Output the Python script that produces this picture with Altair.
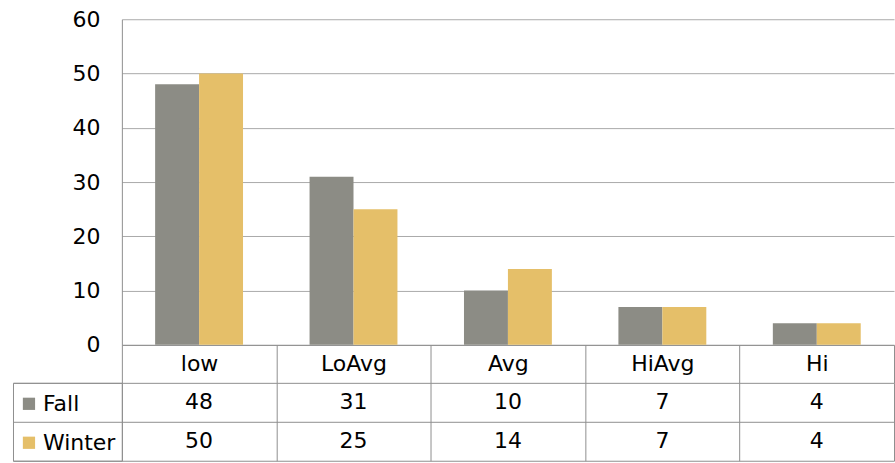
import altair as alt
import pandas as pd

# Score bands and the two test seasons
categories = ["low", "LoAvg", "Avg", "HiAvg", "Hi"]
series = ["Fall", "Winter"]
fall_values = [48, 31, 10, 7, 4]
winter_values = [50, 25, 14, 7, 4]
y_ticks = [0, 10, 20, 30, 40, 50, 60]

FONT = "DejaVu Sans"
FONT_SIZE = 22
GRAY = "#8c8c85"
GOLD = "#e5bf69"
LINE = "#8f8f8f"
GRID = "#aaaaaa"

rows = []
for cat, f, w in zip(categories, fall_values, winter_values):
    rows.append({"category": cat, "series": "Fall", "value": f})
    rows.append({"category": cat, "series": "Winter", "value": w})
df = pd.DataFrame(rows)

PLOT_W = 773
BAR_H = 326
ROW_H = 78
LEGEND_W = 109

# Bands fill the whole step so header/table rules fall on category edges;
# the gap around each pair of columns comes from the offset scale instead.
x_scale = alt.Scale(paddingInner=0, paddingOuter=0)

bars = alt.Chart(df).mark_bar().encode(
    x=alt.X(
        "category:N", sort=categories, scale=x_scale,
        axis=alt.Axis(
            title=None, labelAngle=0, labelFontSize=FONT_SIZE, labelFont=FONT,
            labelColor="black", tickBand="extent", tickSize=38,
            tickColor=LINE, tickWidth=1, domainColor=LINE, domainWidth=1,
            labelPadding=-19, labelBaseline="middle", grid=False,
        ),
    ),
    xOffset=alt.XOffset("series:N", sort=series,
                        scale=alt.Scale(paddingInner=0, paddingOuter=0.757)),
    y=alt.Y(
        "value:Q", scale=alt.Scale(domain=[0, 60], nice=False),
        axis=alt.Axis(
            title=None, values=y_ticks, ticks=False, labelPadding=22,
            labelFontSize=FONT_SIZE, labelFont=FONT, labelColor="black",
            gridColor=GRID, gridWidth=1, domainColor=LINE, domainWidth=1,
        ),
    ),
    color=alt.Color(
        "series:N", sort=series,
        scale=alt.Scale(domain=series, range=[GRAY, GOLD]),
        legend=alt.Legend(
            title=None, orient="none", legendX=5, legendY=374,
            symbolType="square", symbolSize=150, symbolStrokeWidth=0,
            symbolOpacity=1, labelFontSize=FONT_SIZE, labelFont=FONT,
            labelColor="black", labelOffset=3, rowPadding=17, padding=0,
        ),
    ),
).properties(width=PLOT_W, height=BAR_H)

# Empty corner above the legend column
corner = alt.Chart(pd.DataFrame({"series": []})).mark_point().properties(
    width=LEGEND_W, height=BAR_H
)

# Legend column frame with one row per season
legend_cell = alt.Chart(pd.DataFrame({"series": series})).mark_point(
    opacity=0
).encode(
    y=alt.Y(
        "series:N", sort=series,
        scale=alt.Scale(paddingInner=0, paddingOuter=0),
        axis=alt.Axis(title=None, labels=False, ticks=False, domain=False,
                      grid=True, tickBand="extent", gridColor=LINE,
                      gridWidth=1),
    )
).properties(width=LEGEND_W, height=ROW_H,
             view=alt.ViewBackground(stroke=LINE, strokeWidth=1))

# Data table values under each category
table = alt.Chart(df).mark_text(
    fontSize=FONT_SIZE, font=FONT, color="black", baseline="middle"
).encode(
    x=alt.X(
        "category:N", sort=categories, scale=x_scale,
        axis=alt.Axis(title=None, labels=False, ticks=False, domain=False,
                      grid=True, tickBand="extent", gridColor=LINE,
                      gridWidth=1, orient="top"),
    ),
    y=alt.Y(
        "series:N", sort=series,
        scale=alt.Scale(paddingInner=0, paddingOuter=0),
        axis=alt.Axis(title=None, labels=False, ticks=False, domain=False,
                      grid=True, tickBand="extent", gridColor=LINE,
                      gridWidth=1),
    ),
    text="value:Q",
).properties(width=PLOT_W, height=ROW_H)

chart = alt.concat(
    corner, bars, legend_cell, table,
    columns=2,
    spacing={"row": 38, "column": 0},
    bounds="flush",
).properties(
    padding={"left": 12, "top": 8, "right": 0, "bottom": 0},
    background="white",
).configure_view(strokeWidth=0)

chart.save("out.html", embed_options={"renderer": "svg", "actions": False})
